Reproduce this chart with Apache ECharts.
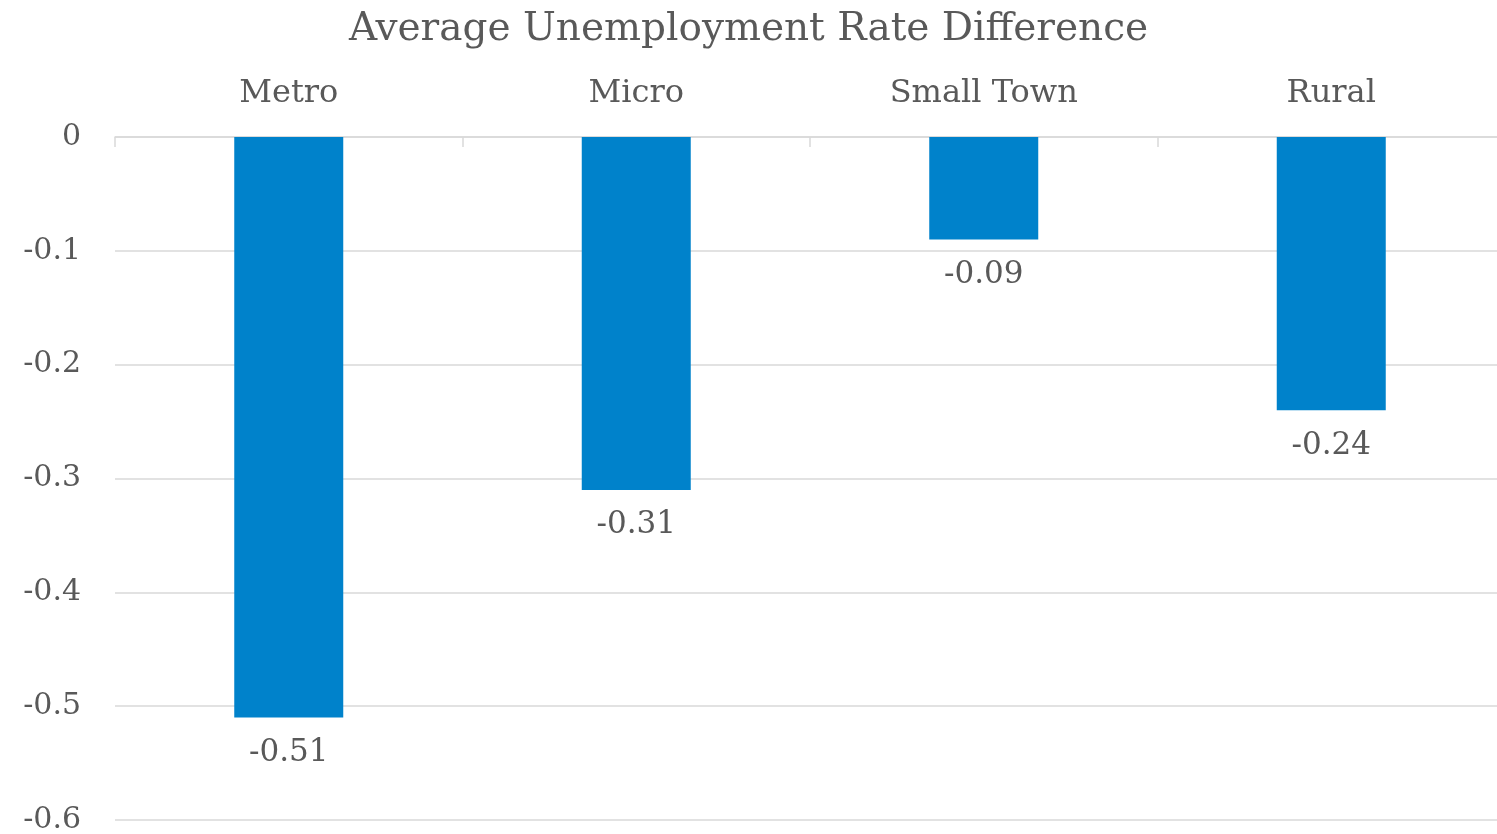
<!DOCTYPE html>
<html>
<head>
<meta charset="utf-8">
<script src="https://cdn.jsdelivr.net/npm/echarts@6/dist/echarts.min.js"></script>
<style>html,body{margin:0;padding:0;background:#fff;}#c{width:1497px;height:834px;}</style>
</head>
<body>
<div id="c"></div>
<script>
const titleText = "Average Unemployment Rate Difference";
const categories = ["Metro", "Micro", "Small Town", "Rural"];
const values = [-0.51, -0.31, -0.09, -0.24];
const yTicks = { min: -0.6, max: 0, interval: 0.1 };

const FONT = "Georgia, 'DejaVu Serif', serif";
const TEXT = "#595959";
const chart = echarts.init(document.getElementById('c'), null, { renderer: 'canvas' });
chart.setOption({
  backgroundColor: '#fff',
  animation: false,
  title: {
    text: titleText, left: 'center', top: 5,
    textStyle: { fontFamily: FONT, fontSize: 39, fontWeight: 'normal', color: TEXT }
  },
  grid: { left: 115, top: 137, width: 1390, height: 683, containLabel: false, outerBoundsMode: 'none' },
  xAxis: {
    type: 'category', position: 'top', data: categories,
    axisLine: { show: true, lineStyle: { color: '#d9d9d9', width: 1.5 } },
    axisTick: { show: true, inside: true, length: 10, lineStyle: { color: '#d9d9d9', width: 1.5 } },
    axisLabel: { fontFamily: FONT, fontSize: 32, color: TEXT, margin: 27 },
    splitLine: { show: false }
  },
  yAxis: {
    type: 'value', min: yTicks.min, max: yTicks.max, interval: yTicks.interval,
    axisLine: { show: false }, axisTick: { show: false },
    axisLabel: {
      fontFamily: FONT, fontSize: 30, color: TEXT, margin: 34,
      formatter: v => (Math.round(v * 10) / 10).toString()
    },
    splitLine: { lineStyle: { color: '#d9d9d9', width: 1.5 } }
  },
  series: [{
    type: 'bar', data: values, barWidth: 109,
    itemStyle: { color: '#0082CB' },
    label: {
      show: true, position: 'bottom', distance: 20,
      fontFamily: FONT, fontSize: 31, color: TEXT,
      formatter: p => p.value.toString()
    }
  }]
});
</script>
</body>
</html>
